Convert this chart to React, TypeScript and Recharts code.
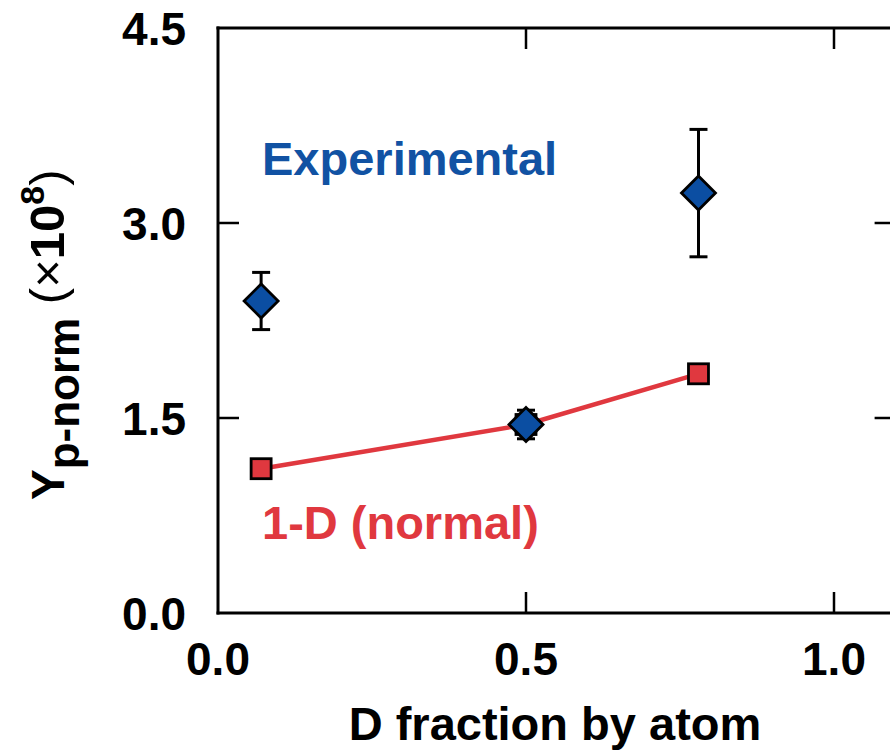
import React from "react"
import { ComposedChart, XAxis, YAxis, Line, Scatter, ErrorBar } from "recharts"

// D fraction (by atom) and normalized proton yield (x1e8)
const expX = [0.07, 0.5, 0.78]
const expY = [2.4, 1.45, 3.23]
const expErr = [0.22, 0.11, 0.49]

const modelX = [0.07, 0.5, 0.78]
const modelY = [1.11, 1.45, 1.84]

const xTicks = [0, 0.5, 1.0]
const yTicks = [0, 1.5, 3.0, 4.5]

const expData = expX.map((x, i) => ({ x, y: expY[i], err: expErr[i] }))
const modelData = modelX.map((x, i) => ({ x, y: modelY[i] }))

const FONT = "'Liberation Sans', Arial, Helvetica, sans-serif"
const BLUE = "#0B4EA2"
const RED = "#E0383F"
const TICK_LEN = 21

const BottomTick = ({ x, y, payload }: any) => (
  <g>
    {payload.value > 0 && <line x1={x} y1={y} x2={x} y2={y - TICK_LEN} stroke="#000" strokeWidth={2.5} />}
    <text x={x} y={y + 62} textAnchor="middle" fontFamily={FONT} fontWeight="bold" fontSize={46} fill="#000">
      {Number(payload.value).toFixed(1)}
    </text>
  </g>
)

const TopTick = ({ x, y, payload }: any) =>
  payload.value > 0 ? <line x1={x} y1={y} x2={x} y2={y + TICK_LEN} stroke="#000" strokeWidth={2.5} /> : <g />

const LeftTick = ({ x, y, payload }: any) => (
  <g>
    {payload.value > 0 && payload.value < 4.5 && (
      <line x1={x} y1={y} x2={x + TICK_LEN} y2={y} stroke="#000" strokeWidth={2.5} />
    )}
    <text x={x - 32} y={y + 17} textAnchor="end" fontFamily={FONT} fontWeight="bold" fontSize={46} fill="#000">
      {Number(payload.value).toFixed(1)}
    </text>
  </g>
)

const RightTick = ({ x, y, payload }: any) =>
  payload.value > 0 && payload.value < 4.5 ? (
    <line x1={x} y1={y} x2={x - TICK_LEN} y2={y} stroke="#000" strokeWidth={2.5} />
  ) : (
    <g />
  )

const Diamond = ({ cx, cy }: any) => {
  const r = 17
  return (
    <polygon
      points={`${cx},${cy - r} ${cx + r},${cy} ${cx},${cy + r} ${cx - r},${cy}`}
      fill={BLUE}
      stroke="#000"
      strokeWidth={2.8}
      strokeLinejoin="miter"
    />
  )
}

const Square = ({ cx, cy }: any) => {
  const h = 10
  return <rect x={cx - h} y={cy - h} width={h * 2} height={h * 2} fill={RED} stroke="#000" strokeWidth={2.8} />
}

const XTitle = ({ viewBox }: any) => (
  <text
    x={viewBox.x + 337}
    y={740}
    textAnchor="middle"
    fontFamily={FONT}
    fontWeight="bold"
    fontSize={47}
    fill="#000"
  >
    D fraction by atom
  </text>
)

const YTitle = () => (
  <text transform="translate(64, 500) rotate(-90)" fontFamily={FONT} fontWeight="bold" fontSize={46} fill="#000">
    <tspan>Y</tspan>
    <tspan dy={15} fontSize={44}>p-norm</tspan>
    <tspan dy={-15} fontWeight="normal" fontSize={49}> (×</tspan>
    <tspan fontSize={49}>10</tspan>
    <tspan dy={-20} fontSize={34}>8</tspan>
    <tspan dy={20} fontWeight="normal" fontSize={49}>)</tspan>
  </text>
)

export default function App() {
  const axisLine = { stroke: "#000", strokeWidth: 3, strokeLinecap: "square" as const }
  return (
    <div
      style={{
        position: "fixed",
        left: 0,
        top: 0,
        width: 890,
        height: 753,
        overflow: "hidden",
        background: "#fff",
      }}
    >
      <ComposedChart
        width={900}
        height={753}
        margin={{ top: 27, left: 217, right: 3.4, bottom: 139 }}
      >
        <XAxis
          xAxisId="bottom"
          type="number"
          dataKey="x"
          domain={[0, 1.1]}
          ticks={xTicks}
          allowDataOverflow
          orientation="bottom"
          height={1}
          tickSize={0}
          tickMargin={0}
          tickLine={false}
          axisLine={axisLine}
          tick={<BottomTick />}
          label={<XTitle />}
        />
        <XAxis
          xAxisId="top"
          type="number"
          dataKey="x"
          domain={[0, 1.1]}
          ticks={xTicks}
          allowDataOverflow
          orientation="top"
          height={1}
          tickSize={0}
          tickMargin={0}
          tickLine={false}
          axisLine={axisLine}
          tick={<TopTick />}
        />
        <YAxis
          yAxisId="left"
          type="number"
          dataKey="y"
          domain={[0, 4.5]}
          ticks={yTicks}
          allowDataOverflow
          orientation="left"
          width={1}
          tickSize={0}
          tickMargin={0}
          tickLine={false}
          axisLine={axisLine}
          tick={<LeftTick />}
          label={<YTitle />}
        />
        <YAxis
          yAxisId="right"
          type="number"
          dataKey="y"
          domain={[0, 4.5]}
          ticks={yTicks}
          allowDataOverflow
          orientation="right"
          width={1}
          tickSize={0}
          tickMargin={0}
          tickLine={false}
          axisLine={axisLine}
          tick={<RightTick />}
        />
        <Line
          xAxisId="bottom"
          yAxisId="left"
          data={modelData}
          dataKey="y"
          stroke={RED}
          strokeWidth={4.5}
          dot={<Square />}
          activeDot={false}
          isAnimationActive={false}
        />
        <Scatter
          xAxisId="bottom"
          yAxisId="left"
          data={expData}
          dataKey="y"
          shape={<Diamond />}
          isAnimationActive={false}
        >
          <ErrorBar dataKey="err" direction="y" width={9} stroke="#000" strokeWidth={3} />
        </Scatter>
      </ComposedChart>
      <div
        style={{
          position: "absolute",
          left: 262,
          top: 132,
          fontFamily: FONT,
          fontWeight: "bold",
          fontSize: 47,
          lineHeight: "54px",
          color: "#1152A3",
          whiteSpace: "nowrap",
        }}
      >
        Experimental
      </div>
      <div
        style={{
          position: "absolute",
          left: 262,
          top: 496,
          fontFamily: FONT,
          fontWeight: "bold",
          fontSize: 47,
          lineHeight: "54px",
          color: RED,
          whiteSpace: "nowrap",
        }}
      >
        1-D (normal)
      </div>
    </div>
  )
}
